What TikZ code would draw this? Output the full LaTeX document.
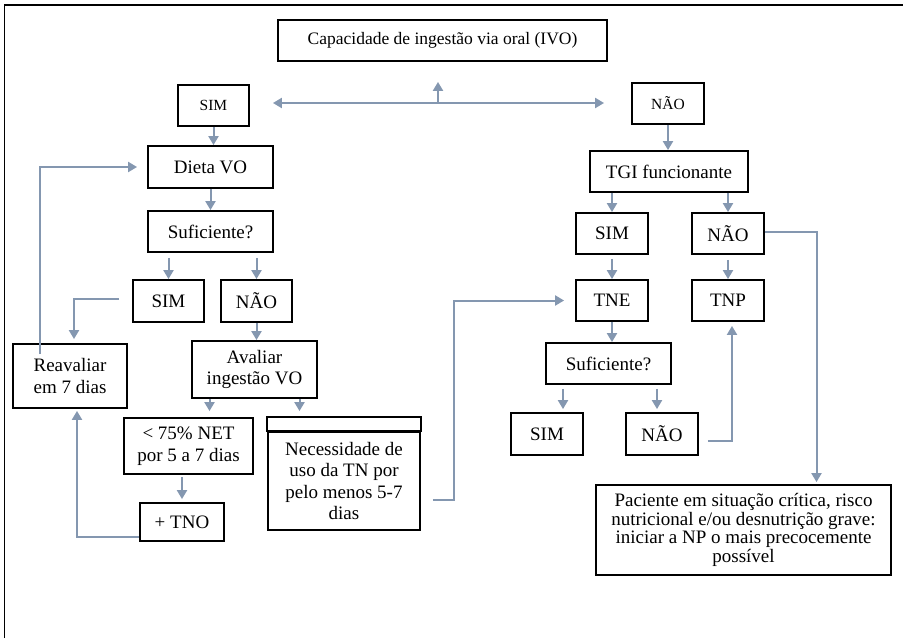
\documentclass[tikz,border=0pt]{standalone}
\usepackage{fontspec}
\setmainfont{Liberation Serif}
\usetikzlibrary{arrows.meta}
\definecolor{flowgray}{HTML}{8497B0}

\begin{document}
\begin{tikzpicture}[x=1pt, y=-1pt,
font=\fontsize{19}{21.5}\selectfont,
box/.style={draw=black, line width=1.8pt, inner sep=0pt, align=center},
small/.style={font=\fontsize{15.5}{18}\selectfont},
>={Triangle[length=9pt,width=10pt]},
flow/.style={draw=flowgray, line width=2pt, ->},
]

\useasboundingbox (0,0) rectangle (903,638);
\draw[line width=1.8pt] (4.5,638) -- (4.5,5) -- (903,5);

% top
\node[box, minimum width=329pt, minimum height=41pt, font=\fontsize{17.5}{21}\selectfont] (cap) at (442.5,40.5) {Capacidade de ingestão via oral (IVO)};
\node[box, small, minimum width=71pt, minimum height=41pt] (simA) at (213.5,105.5) {SIM};
\node[box, small, minimum width=72pt, minimum height=41pt] (naoA) at (668,103.5) {NÃO};
\coordinate (split) at (438,103);

% left branch
\node[box, minimum width=125pt, minimum height=42pt] (dieta) at (210.5,167) {Dieta VO};
\node[box, minimum width=125pt, minimum height=41pt] (suf1) at (210.5,231.5) {Suficiente?};
\node[box, minimum width=71pt, minimum height=42pt] (sim1) at (168.5,301) {SIM};
\node[box, minimum width=71pt, minimum height=42pt] (nao1) at (256.5,301) {NÃO};
\node[box, minimum width=114pt, minimum height=64pt] (reav) at (70,376) {Reavaliar\\em 7 dias};
\node[box, minimum width=125pt, minimum height=57pt] (aval) at (254.5,369.5) {Avaliar\\ingestão VO};
\node[box, minimum width=129pt, minimum height=56pt] (net) at (188.5,446) {< 75\% NET\\por 5 a 7 dias};
\node[box, minimum width=84pt, minimum height=38pt] (tno) at (182,522) {+ TNO};
\node[box, minimum width=152pt, minimum height=98pt] (necess) at (344,481) {Necessidade de\\uso da TN por\\pelo menos 5-7\\dias};
\draw[line width=1.8pt] (necess.north west) rectangle ([yshift=14pt]necess.north east);

% right branch
\node[box, minimum width=158pt, minimum height=41pt] (tgi) at (669,171.5) {TGI funcionante};
\node[box, minimum width=72pt, minimum height=41pt] (sim2) at (612,233.5) {SIM};
\node[box, minimum width=72pt, minimum height=41pt] (nao2) at (728,233.5) {NÃO};
\node[box, minimum width=72pt, minimum height=41pt] (tne) at (612,300.5) {TNE};
\node[box, minimum width=72pt, minimum height=41pt] (tnp) at (728,300.5) {TNP};
\node[box, minimum width=125pt, minimum height=41pt] (suf2) at (608.5,363.5) {Suficiente?};
\node[box, minimum width=72pt, minimum height=42pt] (sim3) at (547,434) {SIM};
\node[box, minimum width=72pt, minimum height=42pt] (nao3) at (662,434) {NÃO};
\node[box, minimum width=295pt, minimum height=90pt, font=\fontsize{19}{18.5}\selectfont] (pac) at (743.5,530) {Paciente em situação crítica, risco\\nutricional e/ou desnutrição grave:\\iniciar a NP o mais precocemente\\possível};

% connectors
\draw[flow, <->, shorten <=23pt, shorten >=27pt] (split -| simA.east) -- (split -| naoA.west);
\draw[flow, shorten >=20pt] (split) -- (split |- cap.south);
\draw[flow] (simA) -- (simA |- dieta.north);
\draw[flow] (dieta) -- (suf1);
\draw[flow, shorten <=5pt] (suf1.south -| sim1) -- (sim1);
\draw[flow, shorten <=5pt] (suf1.south -| nao1) -- (nao1);
\draw[flow, shorten <=13pt, shorten >=4pt] ([yshift=2pt]sim1.west) -| ([xshift=4pt]reav.north);
\draw[flow, shorten >=10pt] ([xshift=-30pt,yshift=-11pt]reav.north) |- (dieta.west);
\draw[flow] (nao1) -- (nao1 |- aval.north);
\draw[flow, shorten >=6pt] ([xshift=-45pt]aval.south) -- ([xshift=-45pt]aval.south |- net.north);
\draw[flow, shorten >=20pt] ([xshift=45pt]aval.south) -- ([xshift=45pt]aval.south |- necess.north);
\draw[flow, shorten <=2pt, shorten >=3pt] (net.south -| tno) -- (tno);
\draw[flow, shorten >=2pt] ([yshift=-15pt]tno.west) -| ([xshift=7pt]reav.south);
\draw[flow, shorten <=12pt, shorten >=11pt] ([yshift=-19pt]necess.east) -- ++(33,0) |- (tne.west);

\draw[flow] (naoA) -- (naoA |- tgi.north);
\draw[flow] (tgi.south -| sim2) -- (sim2);
\draw[flow] (tgi.south -| nao2) -- (nao2);
\draw[flow, shorten <=4pt] (sim2) -- (tne);
\draw[flow, shorten <=5pt] (nao2) -- (tnp);
\draw[flow] (tne) -- (tne |- suf2.north);
\draw[flow, shorten <=4pt, shorten >=3pt] ([xshift=-45.5pt]suf2.south) -- ([xshift=-45.5pt]suf2.south |- sim3.north);
\draw[flow, shorten <=4pt, shorten >=3pt] ([xshift=48.5pt]suf2.south) -- ([xshift=48.5pt]suf2.south |- nao3.north);
\draw[flow, shorten >=2pt] ([yshift=2pt]nao2.east) -| ([xshift=73pt]pac.north);
\draw[flow, shorten <=9pt, shorten >=4pt] ([yshift=-7pt]nao3.east) -| ([xshift=4pt]tnp.south);

\end{tikzpicture}
\end{document}
